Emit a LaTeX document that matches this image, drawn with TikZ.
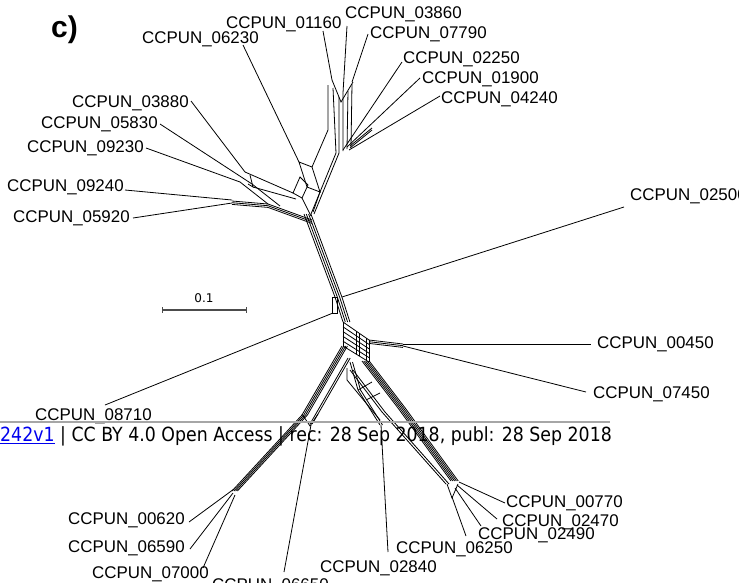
\documentclass[tikz,border=0pt]{standalone}
\usepackage{fontspec}
\setmainfont{Liberation Sans}
\newfontfamily\footfont[FakeStretch=0.89]{DejaVu Sans}
\newfontfamily\barfont{DejaVu Sans}
\usetikzlibrary{calc}
\definecolor{linkblue}{RGB}{0,0,238}

% bundles of parallel split edges
\newcommand\strands[2]{\foreach \dd in {#1} \draw[edge, xshift=\dd pt] #2;}
\newcommand\hstrands[2]{\foreach \dd in {#1} \draw[edge, yshift=\dd pt] #2;}

\begin{document}
\begin{tikzpicture}[x=1pt,y=-1pt,
  edge/.style={line width=0.8pt},
  lbl/.style={font=\fontsize{16.9}{18}\selectfont, inner sep=0pt, anchor=base west}]
\useasboundingbox (0,0) rectangle (739,582);

\node[font=\bfseries\fontsize{30}{30}\selectfont, inner sep=0pt, anchor=base west] (panel) at (51,37) {c)};

% scale bar
\draw[line width=1.2pt, black!70] (162.5,310) -- (246.5,310);
\draw[line width=0.8pt, black!70] (162.5,307) -- (162.5,313) (246.5,307) -- (246.5,313);
\node[font=\barfont\fontsize{12}{12}\selectfont, inner sep=0pt, anchor=base] (scale) at (204,302.5) {0.1};

% trunk and upper hub
\strands{0,2.3,4.6,6.9}{(304,214) -- (335,297) -- (343,322)}
\draw[edge] (332,297) rectangle (337,313);
\coordinate (hubL) at (333,313);
\coordinate (hubR) at (342,297);

% lower hub
\coordinate (A) at (343,322);
\coordinate (B) at (369,340);
\coordinate (C) at (369,362);
\coordinate (D) at (343,346);
\foreach \t in {0,0.2,0.4,0.6,0.8,1}
  \draw[edge] ($(A)!\t!(D)$) -- ($(B)!\t!(C)$);
\foreach \t in {0,0.5,0.62,0.9,1}
  \draw[edge] ($(A)!\t!(B)$) -- ($(D)!\t!(C)$);
\hstrands{0,-1.7,-3.4}{(369,340) -- (403,344)}
\coordinate (fork) at (403,345);

% lower branches
\strands{0,1.8,3.6,5.4}{(342,346) -- (302,415) -- (232,491)}
\strands{0,2.2}{(348,358) -- (310,424)}
\draw[edge] (302,414) -- (310,426) -- (318,414);
\strands{0,2.5}{(350,362) -- (358,390) -- (380,425)}
\draw[edge] (347,368) -- (347,380) -- (380,420);
\strands{0,1.8,3.6,5.4,7.2}{(362,361) -- (398,408) -- (451,481)}
\strands{0,3}{(350,370) -- (382,412) -- (446,484)}
\draw[edge] (358,390) -- (372,382) (366,400) -- (380,393);
\draw[edge] (447,484) -- (452,498) -- (458,484);

% upper branches
\strands{0,3}{(311,214) -- (336,153)}
\draw[edge] (336,153) -- (333,88) (339,153) -- (339,97) (343,151) -- (343,93)
  (347,149) -- (348,91) (351,147) -- (352,84);
\draw[edge] (332,80) -- (341,102) -- (353,82);
\draw[edge] (328,85) -- (328,130) -- (312,167);
\hstrands{0,-2}{(350,146) -- (372,128)}
\draw[edge] (299,162) -- (312,167) -- (320,192) -- (307,187) -- cycle;
\draw[edge] (293,193) -- (300,177) -- (308,185) -- (302,198) -- cycle;
\draw[edge] (320,192) -- (313,212) (302,198) -- (311,216) (293,193) -- (245,172);
\draw[edge] (250,175) -- (253,187) -- (248,184) (253,187) -- (296,199);
\hstrands{0,-1.7,-3.4}{(312,220) -- (268,204) -- (232,201)}
\draw[edge] (240,182) -- (268,204) (252,184) -- (280,206);

% leaves: id / label base / tip / inner end
\foreach \id/\bx/\by/\tx/\ty/\ix/\iy in {
  06230/142/43.5/243/45/299/162,
  01160/226/28/323/31/332/80,
  03860/345/18/347/26/343/93,
  07790/370/38/368/34/352/82,
  02250/403/63/402/62/343/150,
  01900/422/83/420/78/347/147,
  04240/441/103/440/96/349/150,
  02500/630/200/624/207/342/297,
  03880/72/107/191/101/245/172,
  05830/41/128/160/124/252/184,
  09230/27/152/146/148/240/182,
  09240/7/191/125/190/232/200,
  05920/13/222/133/218/232/203,
  00450/597/348/591/344/403/344,
  07450/593/398/586/392/403/346,
  08710/35/420/105/405/333/313,
  00620/68/524/189/522/234/489,
  06590/68/552/190/549/233/493,
  07000/92/578/203/568/235/495,
  06650/212/590/284/572/311/425,
  02840/320/572/388/552/381/425,
  06250/396/553/466/536/452/497,
  02490/478/539/481/526/455/488,
  02470/502/526/497/519/457/485,
  00770/506/507/505/503/459/482}{
  \node[lbl] (n\id) at (\bx,\by) {CCPUN\_\id};
  \coordinate (t\id) at (\tx,\ty);
  \draw[edge] (\ix,\iy) -- (t\id);
}

% page footer
\draw[black!35, line width=2pt] (0,421.5) -- (610,421.5);
\node[font=\footfont\fontsize{19.5}{20}\selectfont, inner sep=0pt, anchor=base west] (foot) at (0,441.5)
  {\textcolor{linkblue}{\underline{242v1}} | CC BY 4.0 Open Access | rec: 28 Sep 2018, publ: 28 Sep 2018};
\end{tikzpicture}
\end{document}
